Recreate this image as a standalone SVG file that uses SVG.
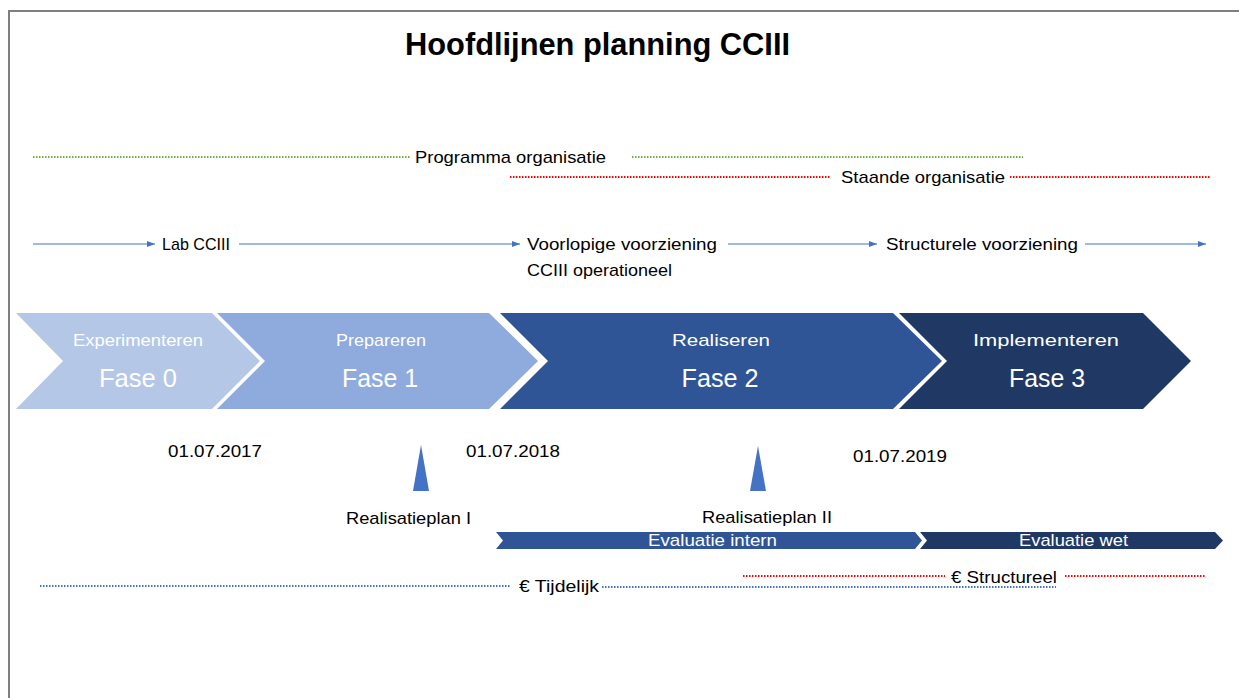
<svg xmlns="http://www.w3.org/2000/svg" width="1239" height="698" viewBox="0 0 1239 698">
<defs>
<style>
text{font-family:"Liberation Sans",Arial,sans-serif;fill:#000}
.lbl{font-size:17px}
.w{fill:#fff}
.ph{font-size:17px;fill:#fff;text-anchor:middle}
.fs{font-size:25px;fill:#fff;text-anchor:middle}
.dot{fill:none;stroke-width:2;stroke-dasharray:1.5 1.5}
.g{stroke:#70ad47}
.r{stroke:#ff0000}
.b{stroke:#4472c4}
.arr{stroke:#4472c4;stroke-width:1.2;fill:none;marker-end:url(#ah)}
</style>
<marker id="ah" markerUnits="userSpaceOnUse" markerWidth="9" markerHeight="8" refX="8" refY="4" orient="auto">
<path d="M0,1 L8,4 L0,7 z" fill="#4472c4"/>
</marker>
</defs>
<rect x="0" y="0" width="1239" height="698" fill="#fff"/>
<path d="M9,698 V11 H1239" fill="none" stroke="#7f7f7f" stroke-width="2"/>

<g id="title">
<text x="405" y="55" font-size="32" font-weight="bold" textLength="385" lengthAdjust="spacingAndGlyphs">Hoofdlijnen planning CCIII</text>
</g>

<g id="connectors">
<line class="dot g" x1="33" y1="157" x2="410" y2="157"/>
<line class="dot g" x1="632" y1="157" x2="1023" y2="157"/>
<line class="dot r" x1="510" y1="177" x2="831" y2="177"/>
<line class="dot r" x1="1010" y1="177" x2="1210" y2="177"/>
<line class="arr" x1="33" y1="244" x2="155" y2="244"/>
<line class="arr" x1="239" y1="244" x2="520" y2="244"/>
<line class="arr" x1="728" y1="244" x2="877" y2="244"/>
<line class="arr" x1="1085" y1="244" x2="1206" y2="244"/>
<line class="dot b" x1="40" y1="586" x2="511" y2="586"/>
<line class="dot b" x1="602" y1="587" x2="1056" y2="587"/>
<line class="dot r" x1="743" y1="576" x2="945" y2="576"/>
<line class="dot r" x1="1065" y1="576" x2="1205" y2="576"/>
</g>

<g id="programma-organisatie"><text class="lbl" x="415" y="163" textLength="191" lengthAdjust="spacingAndGlyphs">Programma organisatie</text></g>
<g id="staande-organisatie"><text class="lbl" x="841" y="183" textLength="164" lengthAdjust="spacingAndGlyphs">Staande organisatie</text></g>

<g id="lab-cciii"><text class="lbl" x="162" y="250" textLength="68" lengthAdjust="spacingAndGlyphs">Lab CCIII</text></g>
<g id="voorlopige-voorziening">
<text class="lbl" x="527" y="250" textLength="190" lengthAdjust="spacingAndGlyphs">Voorlopige voorziening</text>
<text class="lbl" x="527" y="276" textLength="145" lengthAdjust="spacingAndGlyphs">CCIII operationeel</text>
</g>
<g id="structurele-voorziening"><text class="lbl" x="886" y="250" textLength="192" lengthAdjust="spacingAndGlyphs">Structurele voorziening</text></g>

<g id="fase0">
<polygon points="16,313 212,313 260,361 212,409 16,409 63,361" fill="#b4c7e7"/>
<text class="ph" x="138" y="346" textLength="130" lengthAdjust="spacingAndGlyphs">Experimenteren</text>
<text class="fs" x="138" y="387" textLength="78" lengthAdjust="spacingAndGlyphs">Fase 0</text>
</g>
<g id="fase1">
<polygon points="217,313 489,313 538,361 489,409 217,409 265,361" fill="#8faadc"/>
<text class="ph" x="381" y="346" textLength="90" lengthAdjust="spacingAndGlyphs">Prepareren</text>
<text class="fs" x="380" y="387" textLength="76" lengthAdjust="spacingAndGlyphs">Fase 1</text>
</g>
<g id="fase2">
<polygon points="500,313 893,313 942,361 893,409 500,409 548,361" fill="#2f5597"/>
<text class="ph" x="721" y="346" textLength="98" lengthAdjust="spacingAndGlyphs">Realiseren</text>
<text class="fs" x="720" y="387" textLength="77" lengthAdjust="spacingAndGlyphs">Fase 2</text>
</g>
<g id="fase3">
<polygon points="899,313 1143,313 1191,361 1143,409 899,409 947,361" fill="#203864"/>
<text class="ph" x="1046" y="346" textLength="146" lengthAdjust="spacingAndGlyphs">Implementeren</text>
<text class="fs" x="1047" y="387" textLength="76" lengthAdjust="spacingAndGlyphs">Fase 3</text>
</g>

<g id="date-2017"><text class="lbl" x="168" y="457" textLength="94" lengthAdjust="spacingAndGlyphs">01.07.2017</text></g>
<g id="date-2018"><text class="lbl" x="466" y="457" textLength="94" lengthAdjust="spacingAndGlyphs">01.07.2018</text></g>
<g id="date-2019"><text class="lbl" x="853" y="462" textLength="94" lengthAdjust="spacingAndGlyphs">01.07.2019</text></g>

<g id="realisatieplan-1">
<polygon points="421,445 429,491 413,491" fill="#4472c4"/>
<text class="lbl" x="346" y="524" textLength="125" lengthAdjust="spacingAndGlyphs">Realisatieplan I</text>
</g>
<g id="realisatieplan-2">
<polygon points="758,446 766,491 750,491" fill="#4472c4"/>
<text class="lbl" x="702" y="523" textLength="130" lengthAdjust="spacingAndGlyphs">Realisatieplan II</text>
</g>

<g id="evaluatie-intern">
<polygon points="496,532 915,532 922,540.5 915,549 496,549 503,540.5" fill="#2f5597"/>
<text class="lbl w" x="648" y="546" textLength="129" lengthAdjust="spacingAndGlyphs">Evaluatie intern</text>
</g>
<g id="evaluatie-wet">
<polygon points="920,532 1215,532 1223,540.5 1215,549 920,549 927,540.5" fill="#203864"/>
<text class="lbl w" x="1019" y="546" textLength="109" lengthAdjust="spacingAndGlyphs">Evaluatie wet</text>
</g>

<g id="tijdelijk"><text class="lbl" x="519" y="592" textLength="80" lengthAdjust="spacingAndGlyphs">€ Tijdelijk</text></g>
<g id="structureel"><text class="lbl" x="951" y="583" textLength="106" lengthAdjust="spacingAndGlyphs">€ Structureel</text></g>
</svg>
